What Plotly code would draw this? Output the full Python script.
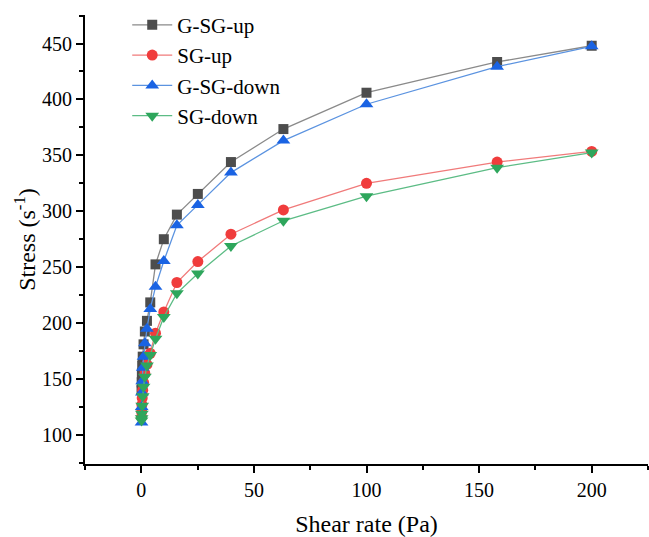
import plotly.graph_objects as go

# Shear rates (log-spaced sweep plus the 200 end point)
shear_rate = [0.1, 0.158, 0.251, 0.398, 0.631, 1.0, 1.58, 2.51, 3.98, 6.31,
              10.0, 15.8, 25.1, 39.8, 63.1, 100.0, 158.0, 200.0]

g_sg_up = [140, 147, 155, 162, 170, 181, 192.5, 202, 218.5, 252.5,
           275, 297, 315.5, 344, 373.5, 406, 433.5, 448]
sg_up = [116, 121, 127, 133, 140, 147, 155, 163, 173, 191,
         210, 236.3, 255, 279.5, 301.2, 325, 344, 353.5]
g_sg_down = [111, 125, 138, 148, 160, 170, 182, 195, 212.7, 232.4,
             255.5, 287.4, 305.7, 334.6, 363.2, 395.7, 429.3, 447.5]
sg_down = [113, 115, 119, 126, 134.5, 143, 152, 162, 171.4, 186,
           205.4, 226.6, 244.3, 269, 291.5, 313.5, 339, 352.5]

series = [
    ("G-SG-up", g_sg_up, "square", 10, "#4d4d4d", "#8a8a8a"),
    ("SG-up", sg_up, "circle", 11, "#f03c3c", "#f07a7a"),
    ("G-SG-down", g_sg_down, "triangle-up", 12, "#1a63e3", "#5b93e0"),
    ("SG-down", sg_down, "triangle-down", 12, "#2ea65c", "#5cbc85"),
]

fig = go.Figure()
for name, vals, sym, size, mcol, lcol in series:
    fig.add_trace(go.Scatter(
        x=shear_rate, y=vals, name=name, mode="lines+markers",
        line=dict(color=lcol, width=1.3),
        marker=dict(symbol=sym, size=size, color=mcol, line=dict(width=0)),
    ))

font_family = "Liberation Serif, Times New Roman, serif"

axis_common = dict(
    showline=True, linecolor="black", linewidth=1.8,
    ticks="outside", ticklen=7, tickwidth=1.8, tickcolor="black",
    showgrid=False, zeroline=False, mirror=False,
    tickfont=dict(family=font_family, size=20, color="black"),
)

fig.update_layout(
    width=649, height=537,
    margin=dict(l=85, r=1, t=15, b=69),
    paper_bgcolor="white", plot_bgcolor="white",
    font=dict(family=font_family, color="black"),
    xaxis=dict(
        range=[-25, 225], tick0=0, dtick=50,
        minor=dict(ticks="outside", ticklen=4, tickwidth=1.8, tickcolor="black", dtick=25, tick0=0),
        title=dict(text="Shear rate (Pa)", font=dict(family=font_family, size=24), standoff=18),
        **axis_common,
    ),
    yaxis=dict(
        range=[74, 475.5], tick0=0, dtick=50,
        minor=dict(ticks="outside", ticklen=4, tickwidth=1.8, tickcolor="black", dtick=25, tick0=0),
        title=dict(text="Stress (s<sup>-1</sup>)", font=dict(family=font_family, size=24), standoff=0),
        **axis_common,
    ),
    legend=dict(
        x=0.075, y=1.023, xanchor="left", yanchor="top",
        bgcolor="rgba(0,0,0,0)", borderwidth=0,
        font=dict(family=font_family, size=21, color="black"),
        itemwidth=40,
    ),
)

fig.write_html("out.html")
